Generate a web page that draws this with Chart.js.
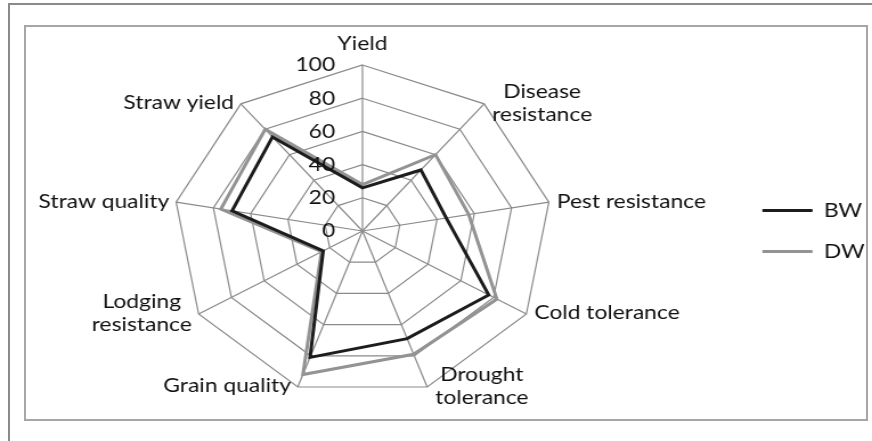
<!DOCTYPE html>
<html>
<head>
<meta charset="utf-8">
<script src="https://cdn.jsdelivr.net/npm/chart.js@4/dist/chart.umd.min.js"></script>
<style>
  html, body { margin: 0; padding: 0; background: #ffffff; overflow: hidden; width: 872px; height: 441px; }
  .outer { position: absolute; left: 8px; top: 3px; width: 890px; height: 450px; border: 2px solid #8a8a8a; box-sizing: border-box; }
  .inner { position: absolute; left: 24px; top: 25px; width: 844px; height: 396px; border: 2px solid #a6a6a6; box-sizing: border-box; }
  .wrap { position: absolute; left: -16px; top: 0; transform: scaleX(1.14); transform-origin: 0 0; }
</style>
</head>
<body>
<div class="outer"></div>
<div class="inner"></div>
<div class="wrap"><canvas id="c" width="790" height="441" style="width:790px;height:441px"></canvas></div>
<script>
const categories = ['Yield', ['Disease', 'resistance'], 'Pest resistance', 'Cold tolerance', ['Drought', 'tolerance'], 'Grain quality', ['Lodging', 'resistance'], 'Straw quality', 'Straw yield'];
const bwValues = [26, 48, 45, 77, 69, 81, 24, 70, 74];
const dwValues = [28, 60, 57, 82, 79, 92, 25, 76, 80];
const tickValues = [0, 20, 40, 60, 80, 100];

const FONT = 'Lato, "Open Sans", sans-serif';
const TEXT = '#111111';

const labelPlugin = {
  id: 'excelLabels',
  afterDraw(chart) {
    const scale = chart.scales.r;
    const ctx = chart.ctx;
    ctx.save();
    ctx.font = '20px ' + FONT;
    ctx.fillStyle = TEXT;
    ctx.textBaseline = 'middle';
    // tick labels, left of the vertical axis
    ctx.textAlign = 'right';
    scale.ticks.forEach(t => {
      const y = scale.yCenter - scale.getDistanceFromCenterForValue(t.value);
      ctx.fillText(String(t.value), scale.xCenter - 24, y);
    });
    // point labels
    const lh = 23;
    chart.data.labels.forEach((lab, i) => {
      const lines = Array.isArray(lab) ? lab : [lab];
      const deg = Math.round(scale.getIndexAngle(i) * 180 / Math.PI) % 360;
      const p = scale.getPointPosition(i, scale.drawingArea);
      const bw = Math.max(...lines.map(l => ctx.measureText(l).width));
      let cx, cy;
      if (deg === 0) {
        cx = p.x; cy = p.y - 21 - (lines.length - 1) * lh / 2;
      } else if (deg < 180) {
        cx = p.x + 7 + bw / 2; cy = p.y - 1;
      } else {
        cx = p.x - 6 - bw / 2; cy = p.y - 1;
      }
      ctx.textAlign = 'center';
      lines.forEach((l, k) => {
        ctx.fillText(l, cx, cy - (lines.length - 1) * lh / 2 + k * lh);
      });
    });
    ctx.restore();
  }
};

new Chart(document.getElementById('c'), {
  type: 'radar',
  data: {
    labels: categories,
    datasets: [
      { label: 'BW', data: bwValues, borderColor: '#1c1c1c', backgroundColor: 'rgba(0,0,0,0)', borderWidth: 3, pointRadius: 0, pointHoverRadius: 0, fill: false, tension: 0 },
      { label: 'DW', data: dwValues, borderColor: '#939393', backgroundColor: 'rgba(0,0,0,0)', borderWidth: 3, pointRadius: 0, pointHoverRadius: 0, fill: false, tension: 0 }
    ]
  },
  options: {
    responsive: false,
    animation: false,
    devicePixelRatio: 1,
    layout: { padding: { left: 4, right: 7.5, top: 65, bottom: 44 } },
    plugins: {
      tooltip: { enabled: false },
      legend: {
        position: 'right',
        labels: {
          usePointStyle: true,
          pointStyle: 'line',
          pointStyleWidth: 44,
          padding: 21,
          color: TEXT,
          font: { family: FONT, size: 20 }
        }
      }
    },
    scales: {
      r: {
        min: 0,
        max: 100,
        ticks: { stepSize: 20, display: false },
        afterBuildTicks(scale) { scale.ticks = tickValues.map(v => ({ value: v })); },
        grid: { circular: false, color: '#8a8a8a', lineWidth: 1.2 },
        angleLines: { color: '#8a8a8a', lineWidth: 1.2 },
        pointLabels: { display: false }
      }
    }
  },
  plugins: [labelPlugin]
});
</script>
</body>
</html>
